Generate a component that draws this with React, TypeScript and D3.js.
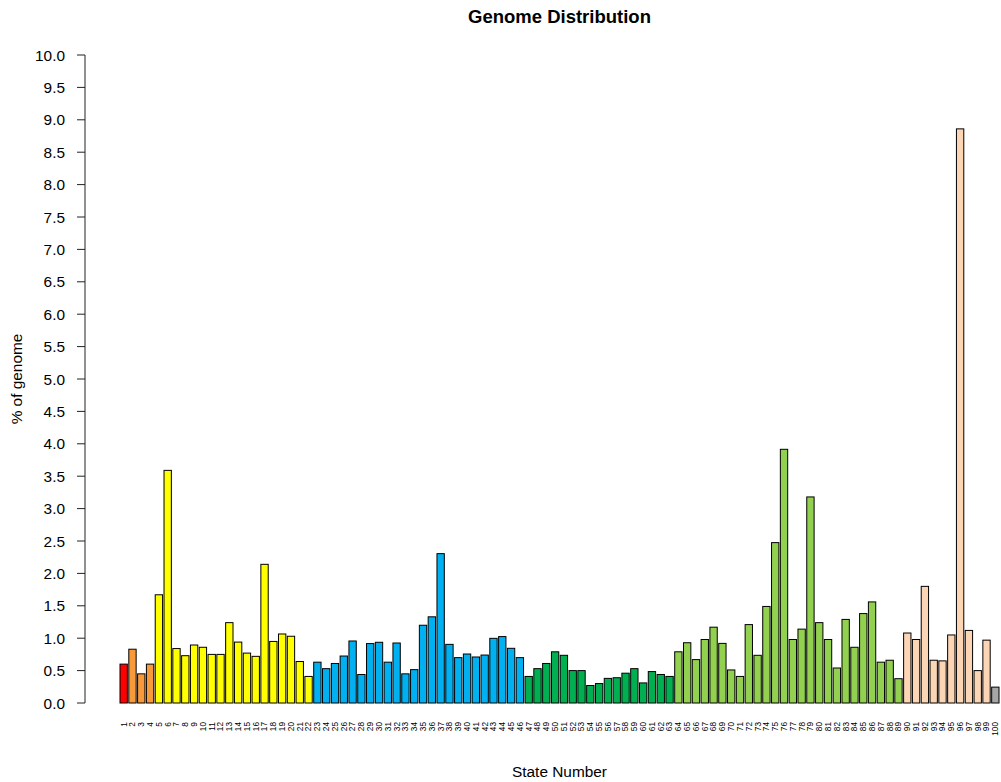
import React from "react";
import * as d3 from "d3";

// Share of the genome assigned to each chromatin state (percent)
const states: number[] = d3.range(1, 101);

const genomePct: number[] = [
  0.60, 0.83, 0.45, 0.60, 1.67, 3.59, 0.84, 0.73, 0.895, 0.86,
  0.75, 0.75, 1.24, 0.94, 0.77, 0.72, 2.14, 0.95, 1.065, 1.03,
  0.64, 0.41, 0.63, 0.53, 0.61, 0.725, 0.957, 0.44, 0.917, 0.937,
  0.63, 0.926, 0.45, 0.515, 1.20, 1.33, 2.305, 0.905, 0.70, 0.756,
  0.71, 0.74, 0.998, 1.025, 0.844, 0.70, 0.41, 0.53, 0.61, 0.79,
  0.736, 0.50, 0.50, 0.27, 0.30, 0.38, 0.39, 0.46, 0.53, 0.31,
  0.485, 0.44, 0.41, 0.79, 0.93, 0.67, 0.98, 1.17, 0.92, 0.51,
  0.41, 1.21, 0.736, 1.49, 2.475, 3.915, 0.98, 1.14, 3.18, 1.24,
  0.98, 0.54, 1.29, 0.86, 1.38, 1.56, 0.63, 0.66, 0.375, 1.08,
  0.98, 1.80, 0.66, 0.65, 1.05, 8.86, 1.12, 0.50, 0.97, 0.245,
];

// State groups: [first state, last state, fill]
const groupStart: number[] = [1, 2, 5, 23, 47, 64, 90, 100];
const groupEnd: number[] = [1, 4, 22, 46, 63, 89, 99, 100];
const groupColor: string[] = [
  "#FF0000", "#F99A3A", "#FFFF00", "#00B0F0",
  "#00B050", "#92D050", "#FCD5B4", "#A6A6A6",
];

const yTicks: number[] = d3.range(0, 10.01, 0.5);

const title = "Genome Distribution";
const xTitle = "State Number";
const yTitle = "% of genome";

const FONT = "'Liberation Sans', Arial, Helvetica, sans-serif";

function colorFor(state: number): string {
  const g = groupStart.findIndex((s, i) => state >= s && state <= groupEnd[i]);
  return groupColor[g];
}

export default function App() {
  const W = 1001;
  const H = 782;

  const x = d3
    .scaleBand<number>()
    .domain(states)
    .range([120, 999])
    .paddingInner(1 / 6)
    .paddingOuter(0);

  const y = d3.scaleLinear().domain([0, 10]).range([703, 55]);

  const axisX = 85;
  const fmt = d3.format(".1f");
  const plotCenterX = (x.range()[0] + x.range()[1]) / 2;

  return (
    <svg
      width={W}
      height={H}
      style={{ position: "absolute", left: 0, top: 0, background: "#fff" }}
      fontFamily={FONT}
    >
      <rect x={0} y={0} width={W} height={H} fill="#fff" />

      {/* title */}
      <text
        x={plotCenterX}
        y={23}
        textAnchor="middle"
        fontSize={18.5}
        fontWeight="bold"
        fill="#000"
      >
        {title}
      </text>

      {/* y axis */}
      <g>
        <line
          x1={axisX}
          x2={axisX}
          y1={y(0)}
          y2={y(10)}
          stroke="#222"
          strokeWidth={1}
        />
        {yTicks.map((t) => (
          <g key={t}>
            <line
              x1={axisX - 8}
              x2={axisX}
              y1={y(t)}
              y2={y(t)}
              stroke="#222"
              strokeWidth={1}
            />
            <text
              x={axisX - 20}
              y={y(t)}
              dy="0.36em"
              textAnchor="end"
              fontSize={15.4}
              fill="#000"
            >
              {fmt(t)}
            </text>
          </g>
        ))}
      </g>

      {/* bars */}
      <g>
        {states.map((s, i) => (
          <rect
            key={s}
            x={x(s)}
            y={y(genomePct[i])}
            width={x.bandwidth()}
            height={y(0) - y(genomePct[i])}
            fill={colorFor(s)}
            stroke="#000"
            strokeWidth={1}
          />
        ))}
      </g>

      {/* state labels */}
      <g>
        {states.map((s) => {
          const cx = (x(s) as number) + x.bandwidth() / 2;
          return (
            <text
              key={s}
              transform={`translate(${cx},722) rotate(-90)`}
              dy="0.35em"
              textAnchor="end"
              fontSize={8.3}
              fill="#000"
            >
              {s}
            </text>
          );
        })}
      </g>

      {/* axis titles */}
      <text
        x={plotCenterX}
        y={777}
        textAnchor="middle"
        fontSize={15.4}
        fill="#000"
      >
        {xTitle}
      </text>
      <text
        transform={`translate(22,${(y(0) + y(10)) / 2}) rotate(-90)`}
        textAnchor="middle"
        fontSize={15.4}
        fill="#000"
      >
        {yTitle}
      </text>
    </svg>
  );
}
